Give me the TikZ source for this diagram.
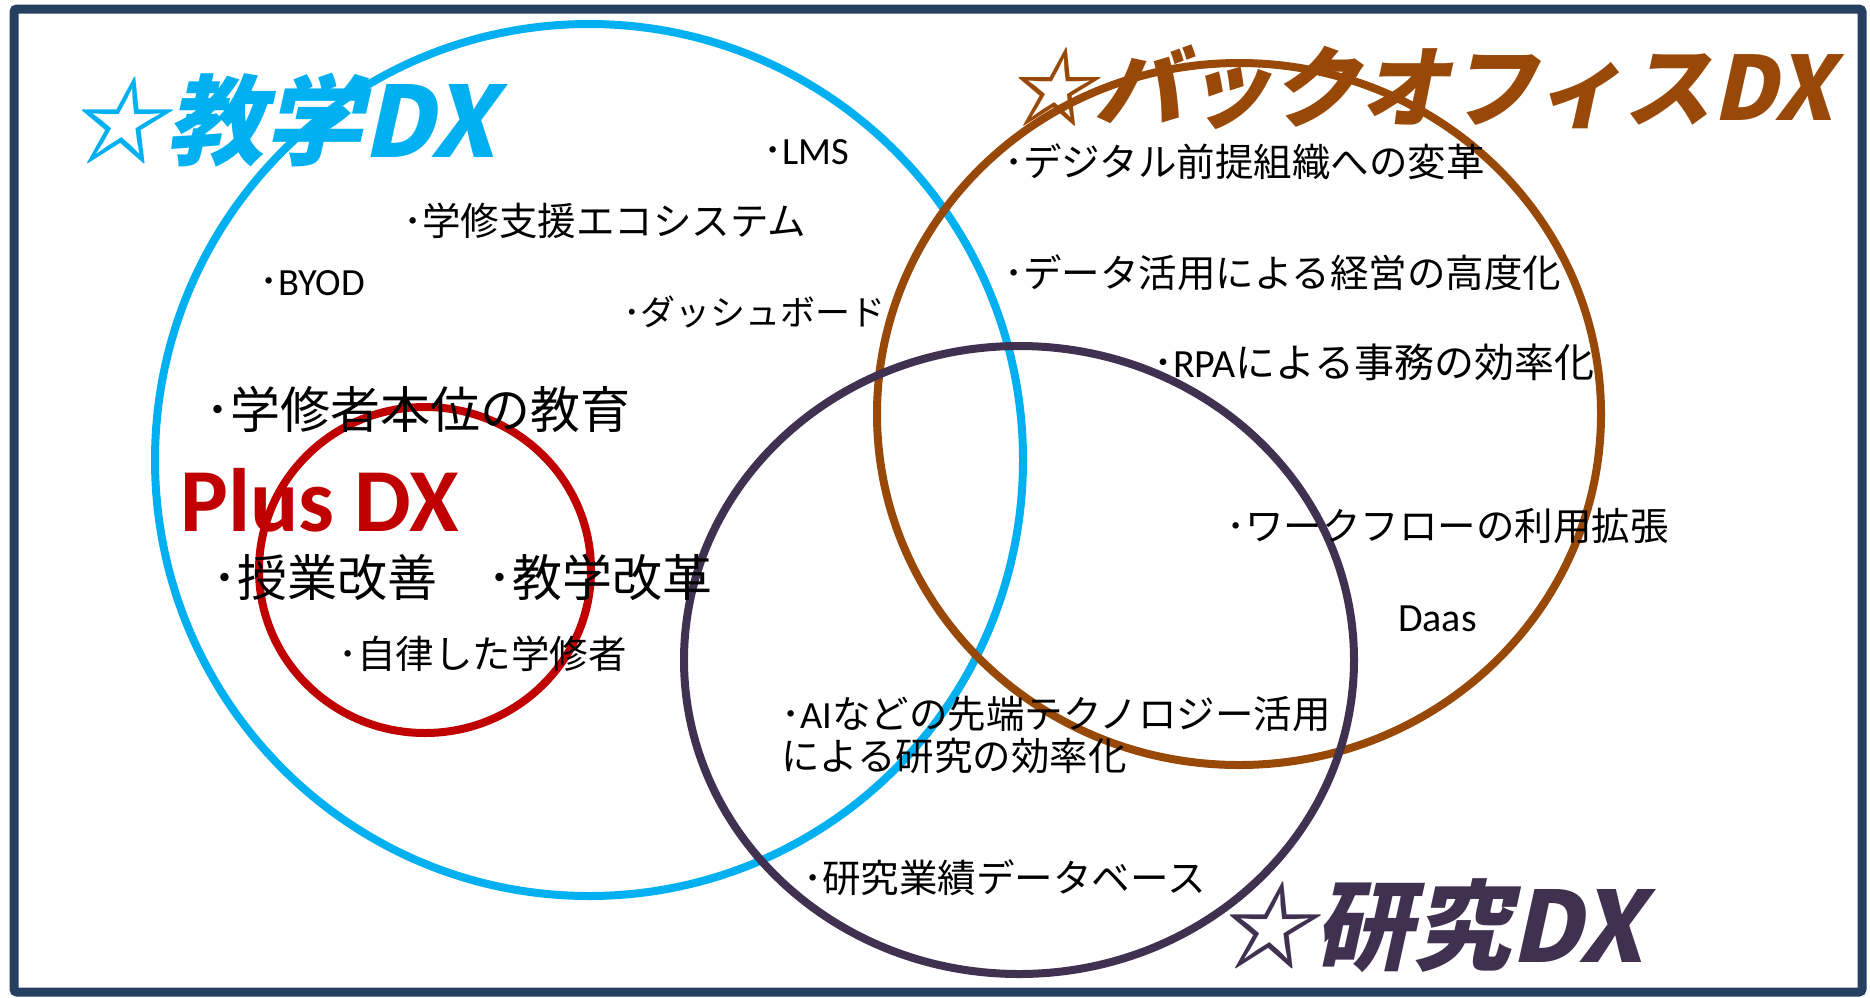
\documentclass[tikz,border=0pt]{standalone}
\usepackage{fontspec}
\setmainfont{Carlito}
\newfontfamily\jp{Noto Sans CJK JP}
\newfontfamily\jpt[FakeSlant=0.22]{Noto Sans CJK JP}
\newfontfamily\lat{Carlito}
\definecolor{edublue}{HTML}{00B0F0}
\definecolor{bobrown}{HTML}{984807}
\definecolor{respurple}{HTML}{403151}
\definecolor{plusred}{HTML}{C00000}
\definecolor{framenavy}{HTML}{254061}
\tikzset{
  ring/.style={line width=8pt},
  item/.style={anchor=base west, inner sep=0pt, font=\fontsize{38.5}{46}\selectfont\jp},
  bigitem/.style={item, font=\fontsize{50}{60}\selectfont\jp},
  titletext/.style={anchor=base west, inner sep=0pt, font=\fontsize{98}{110}\selectfont\jpt\bfseries},
}
\begin{document}
\begin{tikzpicture}[x=1pt,y=-1pt]
\useasboundingbox (0,0) rectangle (1870,997);
\fill[white] (0,0) rectangle (1870,997);
\draw[framenavy, line width=9pt, rounded corners=3pt] (14,9) rectangle (1862,992);
% circles
\draw[ring, edublue] (589,460) ellipse [x radius=434, y radius=436];
\draw[ring, bobrown] (1239,414) ellipse [x radius=362, y radius=351];
\draw[ring, respurple] (1019,660) ellipse [x radius=335, y radius=314];
\draw[ring, plusred] (425,570) ellipse [x radius=166, y radius=163];
% titles
\node[titletext, text=edublue] (tEdu) at (68,157) {☆教学DX};
\node[titletext, text=bobrown, font=\fontsize{88.5}{100}\selectfont\jpt\bfseries] (tBO) at (1006,120) {☆バックオフィスDX};
\node[titletext, text=respurple] (tRes) at (1216,962) {☆研究DX};
\node[anchor=base west, inner sep=0pt, text=plusred, font=\fontsize{90}{100}\selectfont\lat\bfseries] (tPlus) at (180,531) {Plus DX};
% items
\node[item] (lms) at (763,164) {･{\lat LMS}};
\node[item] (eco) at (403,235) {･学修支援エコシステム};
\node[item] (byod) at (259,295) {･{\lat BYOD}};
\node[item, font=\fontsize{35}{44}\selectfont\jp] (dash) at (623,325) {･ダッシュボード};
\node[bigitem] (honi) at (205,428) {･学修者本位の教育};
\node[bigitem] (jugyo) at (212,596) {･授業改善};
\node[bigitem] (kyogaku) at (487,596) {･教学改革};
\node[item] (jiritsu) at (338,668) {･自律した学修者};
\node[item] (digi) at (1004,176) {･デジタル前提組織への変革};
\node[item] (data) at (1004,287) {･データ活用による経営の高度化};
\node[item, font=\fontsize{40}{46}\selectfont\jp] (rpa) at (1153,377) {･{\lat RPA}による事務の効率化};
\node[item] (wf) at (1226,540) {･ワークフローの利用拡張};
\node[item, font=\fontsize{40}{46}\selectfont\lat] (daas) at (1398,631) {Daas};
\node[item, align=left] (ai) at (781,770) {･{\lat AI}などの先端テクノロジー活用\\[-4pt]による研究の効率化};
\node[item] (gyoseki) at (803,892) {･研究業績データベース};
\end{tikzpicture}
\end{document}
